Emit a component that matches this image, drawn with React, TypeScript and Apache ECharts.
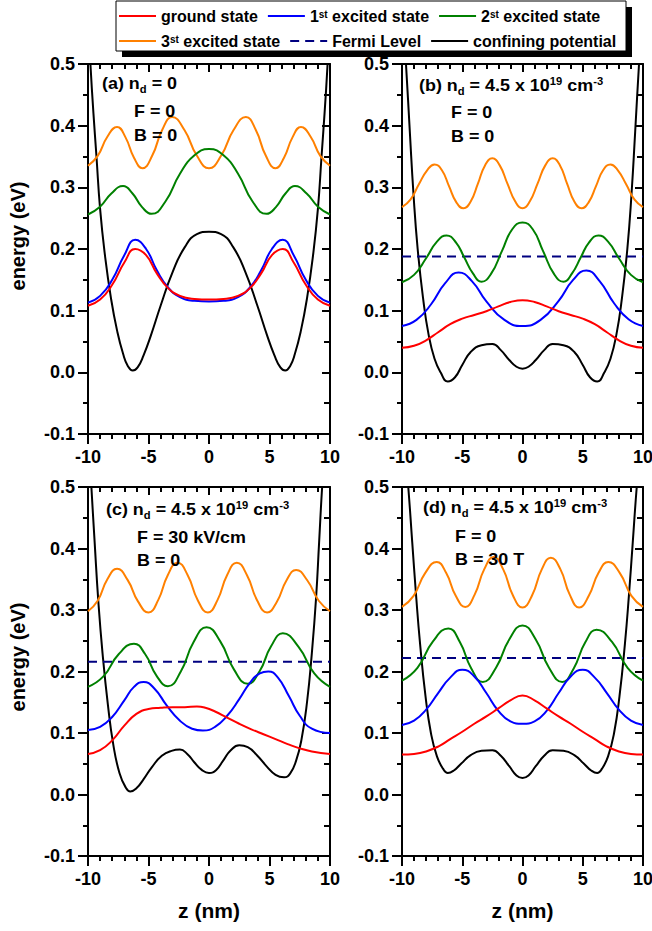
import React, { useEffect, useRef } from 'react';
import * as echarts from 'echarts';

type Pt = [number, number];

const FONT = 'Arial, "Liberation Sans", Helvetica, sans-serif';

const seriesNames = ['ground state', '1st excited state', '2st excited state', '3st excited state', 'Fermi Level', 'confining potential'];
const xTicks = [-10, -5, 0, 5, 10];
const yTicks = [-0.1, 0.0, 0.1, 0.2, 0.3, 0.4, 0.5];

// ---------- Panel (a): n_d = 0, F = 0, B = 0 ----------
const aGround: Pt[] = [[-10,0.108],[-9,0.118],[-8,0.142],[-7,0.178],[-6.1,0.2],[-5.2,0.19],[-4.3,0.16],[-3.4,0.137],[-2.4,0.124],[-1.2,0.119],[0,0.118],[1.2,0.119],[2.4,0.124],[3.4,0.137],[4.3,0.16],[5.2,0.19],[6.1,0.2],[7,0.178],[8,0.142],[9,0.118],[10,0.108]];
const aFirst: Pt[] = [[-10,0.113],[-9,0.124],[-8,0.15],[-7,0.19],[-6.1,0.215],[-5.2,0.2],[-4.3,0.165],[-3.4,0.138],[-2.4,0.122],[-1.2,0.116],[0,0.115],[1.2,0.116],[2.4,0.122],[3.4,0.138],[4.3,0.165],[5.2,0.2],[6.1,0.215],[7,0.19],[8,0.15],[9,0.124],[10,0.113]];
const aSecond: Pt[] = [[-10,0.256],[-9.03,0.268],[-8.07,0.29],[-7.1,0.302],[-6.32,0.29],[-5.53,0.268],[-4.75,0.257],[-3.6,0.277],[-2.4,0.322],[-1.2,0.352],[0,0.362],[1.2,0.352],[2.4,0.322],[3.6,0.277],[4.75,0.257],[5.53,0.268],[6.32,0.29],[7.1,0.302],[8.07,0.29],[9.03,0.268],[10,0.256]];
const aThird: Pt[] = [[-10,0.335],[-9.2,0.351],[-8.4,0.382],[-7.6,0.398],[-6.9,0.381],[-6.2,0.348],[-5.5,0.331],[-4.68,0.352],[-3.87,0.393],[-3.05,0.414],[-2.03,0.393],[-1.02,0.352],[0,0.331],[1.02,0.352],[2.03,0.393],[3.05,0.414],[3.87,0.393],[4.68,0.352],[5.5,0.331],[6.2,0.348],[6.9,0.381],[7.6,0.398],[8.4,0.382],[9.2,0.351],[10,0.335]];
const aPotential: Pt[] = [[-10,0.58],[-9.8,0.5],[-9.55,0.42],[-9.3,0.35],[-9,0.265],[-8.6,0.19],[-8.1,0.12],[-7.6,0.068],[-7.1,0.03],[-6.7,0.01],[-6.3,0.003],[-5.9,0.008],[-5.4,0.028],[-4.8,0.06],[-4,0.108],[-3,0.163],[-2,0.203],[-1,0.224],[0,0.228],[1,0.224],[2,0.203],[3,0.163],[4,0.108],[4.8,0.06],[5.4,0.028],[5.9,0.008],[6.3,0.003],[6.7,0.01],[7.1,0.03],[7.6,0.068],[8.1,0.12],[8.6,0.19],[9,0.265],[9.3,0.35],[9.55,0.42],[9.8,0.5],[10,0.58]];

// ---------- Panel (b): n_d = 4.5e19, F = 0, B = 0 ----------
const bGround: Pt[] = [[-10,0.04],[-9,0.043],[-8,0.052],[-7,0.065],[-6,0.078],[-5,0.087],[-4,0.093],[-3,0.099],[-2,0.107],[-1,0.114],[0,0.117],[1,0.114],[2,0.107],[3,0.099],[4,0.093],[5,0.087],[6,0.078],[7,0.065],[8,0.052],[9,0.043],[10,0.04]];
const bFirst: Pt[] = [[-10,0.075],[-8.8,0.085],[-7.6,0.11],[-6.4,0.145],[-5.3,0.162],[-4.2,0.148],[-3,0.115],[-1.5,0.085],[0,0.075],[1.5,0.085],[3,0.116],[4.2,0.15],[5.3,0.165],[6.4,0.148],[7.6,0.112],[8.8,0.086],[10,0.075]];
const bSecond: Pt[] = [[-10,0.146],[-9,0.158],[-8,0.185],[-7.1,0.212],[-6.3,0.222],[-5.5,0.21],[-4.85,0.187],[-4.1,0.16],[-3.4,0.147],[-2.6,0.16],[-1.7,0.197],[-0.85,0.232],[0,0.243],[0.85,0.232],[1.7,0.197],[2.6,0.16],[3.4,0.147],[4.1,0.16],[4.85,0.187],[5.5,0.21],[6.3,0.222],[7.1,0.212],[8,0.185],[9,0.158],[10,0.146]];
const bThird: Pt[] = [[-10,0.268],[-9.3,0.28],[-8.6,0.305],[-7.9,0.328],[-7.3,0.337],[-6.7,0.328],[-6.1,0.302],[-5.5,0.276],[-4.9,0.266],[-4.3,0.277],[-3.7,0.306],[-3.1,0.336],[-2.5,0.347],[-1.9,0.336],[-1.25,0.306],[-0.6,0.277],[0,0.266],[0.6,0.277],[1.25,0.306],[1.9,0.336],[2.5,0.347],[3.1,0.336],[3.7,0.306],[4.3,0.277],[4.9,0.266],[5.5,0.276],[6.1,0.302],[6.7,0.328],[7.3,0.337],[7.9,0.328],[8.6,0.305],[9.3,0.28],[10,0.268]];
const bFermi: Pt[] = [[-10,0.188],[10,0.188]];
const bPotential: Pt[] = [[-10,0.6],[-9.67,0.5],[-9.35,0.39],[-9.05,0.29],[-8.7,0.2],[-8.25,0.12],[-7.8,0.062],[-7.3,0.022],[-6.8,0.0],[-6.2,-0.015],[-5.6,-0.008],[-5,0.012],[-4.3,0.033],[-3.4,0.044],[-2.5,0.046],[-1.8,0.036],[-1.1,0.02],[-0.5,0.009],[0,0.006],[0.5,0.009],[1.1,0.02],[1.8,0.036],[2.5,0.046],[3.4,0.044],[4.3,0.033],[5,0.012],[5.6,-0.008],[6.2,-0.015],[6.8,0.0],[7.3,0.022],[7.8,0.062],[8.25,0.12],[8.7,0.2],[9.05,0.29],[9.35,0.39],[9.67,0.5],[10,0.6]];

// ---------- Panel (c): n_d = 4.5e19, F = 30 kV/cm, B = 0 ----------
const cGround: Pt[] = [[-10,0.066],[-9,0.072],[-8,0.088],[-7,0.112],[-6,0.131],[-5,0.139],[-4,0.141],[-3,0.142],[-2,0.142],[-1,0.143],[-0.3,0.141],[0.5,0.135],[1.5,0.125],[2.5,0.115],[3.5,0.106],[4.5,0.098],[5.5,0.09],[6.5,0.082],[7.5,0.075],[8.5,0.07],[10,0.066]];
const cFirst: Pt[] = [[-10,0.105],[-9,0.11],[-8,0.126],[-7,0.153],[-6.2,0.175],[-5.4,0.183],[-4.5,0.172],[-3.5,0.145],[-2.4,0.12],[-1.4,0.107],[-0.5,0.104],[0.5,0.11],[1.5,0.128],[2.5,0.155],[3.4,0.182],[4.2,0.197],[4.9,0.2],[5.7,0.19],[6.6,0.16],[7.5,0.128],[8.5,0.107],[10,0.1]];
const cSecond: Pt[] = [[-10,0.175],[-8.73,0.192],[-7.47,0.228],[-6.2,0.245],[-5.27,0.228],[-4.33,0.193],[-3.4,0.176],[-2.33,0.2],[-1.27,0.248],[-0.2,0.272],[0.93,0.249],[2.07,0.203],[3.2,0.18],[4.17,0.2],[5.13,0.241],[6.1,0.262],[7.4,0.24],[8.7,0.197],[10,0.175]];
const cThird: Pt[] = [[-10,0.298],[-9.2,0.315],[-8.4,0.35],[-7.6,0.367],[-6.73,0.349],[-5.87,0.314],[-5,0.296],[-4.2,0.316],[-3.4,0.357],[-2.6,0.377],[-1.77,0.357],[-0.93,0.316],[-0.1,0.296],[0.7,0.316],[1.5,0.357],[2.3,0.377],[3.13,0.357],[3.97,0.316],[4.8,0.296],[5.6,0.313],[6.4,0.348],[7.2,0.365],[8.13,0.348],[9.07,0.315],[10,0.298]];
const cFermi: Pt[] = [[-10,0.216],[10,0.216]];
const cPotential: Pt[] = [[-10,0.6],[-9.72,0.5],[-9.45,0.41],[-9.15,0.315],[-8.8,0.23],[-8.35,0.145],[-7.9,0.08],[-7.4,0.035],[-6.9,0.012],[-6.5,0.005],[-6,0.01],[-5.4,0.025],[-4.7,0.045],[-3.9,0.063],[-3.1,0.071],[-2.4,0.073],[-1.8,0.066],[-1.2,0.052],[-0.6,0.04],[0,0.035],[0.6,0.04],[1.2,0.056],[1.8,0.072],[2.5,0.08],[3.2,0.077],[4,0.063],[4.8,0.045],[5.5,0.032],[6.2,0.028],[6.7,0.034],[7.2,0.055],[7.65,0.09],[8.1,0.15],[8.5,0.23],[8.85,0.32],[9.1,0.41],[9.35,0.5],[10,0.7]];

// ---------- Panel (d): n_d = 4.5e19, F = 0, B = 30 T ----------
const dGround: Pt[] = [[-10,0.065],[-9,0.066],[-8,0.07],[-7,0.078],[-6,0.09],[-5,0.102],[-4,0.115],[-3,0.127],[-2,0.14],[-1,0.153],[0,0.161],[1,0.153],[2,0.14],[3,0.127],[4,0.115],[5,0.102],[6,0.09],[7,0.078],[8,0.07],[9,0.066],[10,0.065]];
const dFirst: Pt[] = [[-10,0.113],[-9,0.12],[-8,0.138],[-7,0.165],[-6,0.19],[-5,0.203],[-4,0.192],[-3,0.165],[-2,0.136],[-1,0.119],[0,0.115],[1,0.119],[2,0.136],[3,0.165],[4,0.192],[5,0.203],[6,0.19],[7,0.165],[8,0.138],[9,0.12],[10,0.113]];
const dSecond: Pt[] = [[-10,0.185],[-8.72,0.206],[-7.43,0.249],[-6.15,0.27],[-5.2,0.248],[-4.25,0.205],[-3.3,0.183],[-2.2,0.206],[-1.1,0.252],[0,0.275],[1.1,0.252],[2.2,0.206],[3.3,0.183],[4.25,0.205],[5.2,0.247],[6.15,0.268],[7.43,0.248],[8.72,0.206],[10,0.185]];
const dThird: Pt[] = [[-10,0.305],[-9.04,0.323],[-8.08,0.36],[-7.12,0.378],[-6.33,0.36],[-5.54,0.323],[-4.75,0.305],[-3.97,0.325],[-3.18,0.366],[-2.4,0.386],[-1.6,0.366],[-0.8,0.324],[0,0.304],[0.8,0.324],[1.6,0.366],[2.35,0.385],[3.15,0.366],[3.92,0.325],[4.7,0.304],[5.5,0.323],[6.3,0.36],[7.12,0.378],[8.08,0.36],[9.04,0.323],[10,0.305]];
const dFermi: Pt[] = [[-10,0.222],[10,0.222]];
const dPotential: Pt[] = [[-10,0.62],[-9.48,0.5],[-9.15,0.41],[-8.84,0.326],[-8.5,0.245],[-8.05,0.16],[-7.6,0.1],[-7.1,0.062],[-6.6,0.042],[-6.2,0.035],[-5.7,0.039],[-5.1,0.05],[-4.3,0.064],[-3.4,0.071],[-2.5,0.072],[-1.8,0.063],[-1.1,0.046],[-0.5,0.031],[0,0.027],[0.5,0.031],[1.1,0.046],[1.8,0.063],[2.5,0.072],[3.4,0.071],[4.3,0.064],[5.1,0.05],[5.7,0.039],[6.2,0.035],[6.6,0.042],[7.1,0.062],[7.6,0.1],[8.05,0.16],[8.5,0.245],[8.84,0.326],[9.15,0.41],[9.48,0.5],[10,0.62]];

const panels = [
  { ground: aGround, first: aFirst, second: aSecond, third: aThird, fermi: null as Pt[] | null, potential: aPotential },
  { ground: bGround, first: bFirst, second: bSecond, third: bThird, fermi: bFermi, potential: bPotential },
  { ground: cGround, first: cFirst, second: cSecond, third: cThird, fermi: cFermi, potential: cPotential },
  { ground: dGround, first: dFirst, second: dSecond, third: dThird, fermi: dFermi, potential: dPotential },
];

// annotation texts (rich format)
const panelTexts = [
  ['{n|(a) n}{sub|d}{n| = 0}', '{n|F = 0}', '{n|B = 0}'],
  ['{n|(b) n}{sub|d}{n| = 4.5 x 10}{sup|19}{n| cm}{sup|-3}', '{n|F = 0}', '{n|B = 0}'],
  ['{n|(c) n}{sub|d}{n| = 4.5 x 10}{sup|19}{n| cm}{sup|-3}', '{n|F = 30 kV/cm}', '{n|B = 0}'],
  ['{n|(d) n}{sub|d}{n| = 4.5 x 10}{sup|19}{n| cm}{sup|-3}', '{n|F = 0}', '{n|B = 30 T}'],
];

const legendLabels: Record<string, string> = {
  'ground state': '{n|ground state}',
  '1st excited state': '{n|1}{s|st}{n| excited state}',
  '2st excited state': '{n|2}{s|st}{n| excited state}',
  '3st excited state': '{n|3}{s|st}{n| excited state}',
  'Fermi Level': '{n|Fermi Level}',
  'confining potential': '{n|confining potential}',
};

const COLORS = {
  ground: '#ff0000',
  first: '#0000ff',
  second: '#008000',
  third: '#ff8000',
  fermi: '#000080',
  potential: '#000000',
};

const GRIDS = [
  { left: 88, top: 64, width: 242, height: 370 },
  { left: 402, top: 64, width: 241, height: 370 },
  { left: 88, top: 487, width: 242, height: 369 },
  { left: 402, top: 487, width: 241, height: 369 },
];

const TEXT_POS = [
  [[102, 84], [134, 112], [134, 136]],
  [[419, 86], [451, 113], [451, 137]],
  [[106, 510], [137, 538], [137, 561]],
  [[423, 508], [455, 537], [455, 560]],
];

function buildOption(): any {
  const axisLine = { onZero: false, lineStyle: { color: '#000', width: 2 } };
  const labelStyle = { color: '#000', fontSize: 18, fontWeight: 'bold', fontFamily: FONT };
  const xMin = xTicks[0];
  const xMax = xTicks[xTicks.length - 1];
  const xInt = xTicks[1] - xTicks[0];
  const yMin = yTicks[0];
  const yMax = yTicks[yTicks.length - 1];
  const yInt = 0.1;

  const xAxis: any[] = [];
  const yAxis: any[] = [];
  const series: any[] = [];
  const graphic: any[] = [];

  GRIDS.forEach((_, i) => {
    xAxis.push({
      gridIndex: i, type: 'value', position: 'bottom', min: xMin, max: xMax, interval: xInt,
      axisLine, splitLine: { show: false },
      axisTick: { show: true, length: 10, lineStyle: { color: '#000', width: 2 } },
      minorTick: { show: true, splitNumber: 5, length: 5, lineStyle: { color: '#000', width: 2 } },
      minorSplitLine: { show: false },
      axisLabel: { ...labelStyle, margin: 14 },
      name: i >= 2 ? 'z (nm)' : '', nameLocation: 'middle', nameGap: 44,
      nameTextStyle: { color: '#000', fontSize: 21, fontWeight: 'bold', fontFamily: FONT },
    });
    xAxis.push({
      gridIndex: i, type: 'value', position: 'top', min: xMin, max: xMax, interval: xInt,
      axisLine, splitLine: { show: false },
      axisTick: { show: true, inside: true, length: 8, lineStyle: { color: '#000', width: 2 } },
      minorTick: { show: true, splitNumber: 5, length: 5, lineStyle: { color: '#000', width: 2 } },
      axisLabel: { show: false },
    });
    yAxis.push({
      gridIndex: i, type: 'value', position: 'left', min: yMin, max: yMax, interval: yInt,
      axisLine, splitLine: { show: false },
      axisTick: { show: true, length: 10, lineStyle: { color: '#000', width: 2 } },
      minorTick: { show: true, splitNumber: 2, length: 5, lineStyle: { color: '#000', width: 2 } },
      axisLabel: { ...labelStyle, margin: 13, formatter: (v: number) => v.toFixed(1) },
    });
    yAxis.push({
      gridIndex: i, type: 'value', position: 'right', min: yMin, max: yMax, interval: yInt,
      axisLine, splitLine: { show: false },
      axisTick: { show: true, inside: true, length: 8, lineStyle: { color: '#000', width: 2 } },
      minorTick: { show: true, splitNumber: 2, length: 6, lineStyle: { color: '#000', width: 2 } },
      axisLabel: { show: false },
    });

    const p = panels[i];
    const base = { type: 'line', xAxisIndex: 2 * i, yAxisIndex: 2 * i, symbol: 'none', showSymbol: false, silent: true, emphasis: { disabled: true }, animation: false };
    series.push({ ...base, name: 'confining potential', data: p.potential, smooth: 0.5, color: COLORS.potential, lineStyle: { color: COLORS.potential, width: 2 }, z: 2 });
    if (p.fermi) {
      series.push({ ...base, name: 'Fermi Level', data: p.fermi, color: COLORS.fermi, lineStyle: { color: COLORS.fermi, width: 2, type: [9, 6] }, z: 3 });
    }
    series.push({ ...base, name: '3st excited state', data: p.third, smooth: 0.5, color: COLORS.third, lineStyle: { color: COLORS.third, width: 2 }, z: 3 });
    series.push({ ...base, name: '2st excited state', data: p.second, smooth: 0.5, color: COLORS.second, lineStyle: { color: COLORS.second, width: 2 }, z: 3 });
    series.push({ ...base, name: '1st excited state', data: p.first, smooth: 0.5, color: COLORS.first, lineStyle: { color: COLORS.first, width: 2 }, z: 3 });
    series.push({ ...base, name: 'ground state', data: p.ground, smooth: 0.5, color: COLORS.ground, lineStyle: { color: COLORS.ground, width: 2 }, z: 4 });

    const rich = {
      n: { fontSize: 16, fontWeight: 'bold', fontFamily: FONT, fill: '#000', lineHeight: 20 },
      sub: { fontSize: 10, fontWeight: 'bold', fontFamily: FONT, fill: '#000', lineHeight: 8, verticalAlign: 'bottom' },
      sup: { fontSize: 10, fontWeight: 'bold', fontFamily: FONT, fill: '#000', lineHeight: 10, verticalAlign: 'top' },
    };
    panelTexts[i].forEach((t, k) => {
      graphic.push({
        type: 'text', x: TEXT_POS[i][k][0], y: TEXT_POS[i][k][1], scaleX: 1.12, z: 100,
        style: { text: t, rich, align: 'left', verticalAlign: 'middle', fill: '#000', fontSize: 16, fontWeight: 'bold', fontFamily: FONT },
      });
    });
  });

  // legend frame with drop shadow
  graphic.push({ type: 'rect', z: 0, shape: { x: 122, y: 7, width: 510, height: 50 }, style: { fill: '#000' } });
  graphic.push({ type: 'rect', z: 1, shape: { x: 116, y: 1, width: 510, height: 50 }, style: { fill: '#fff', stroke: '#000', lineWidth: 1 } });

  // y-axis titles
  [236, 657].forEach((cy) => {
    graphic.push({
      type: 'text', x: 18, y: cy, rotation: Math.PI / 2, z: 100,
      style: { text: 'energy (eV)', fill: '#000', fontSize: 20, fontWeight: 'bold', fontFamily: FONT, align: 'center', verticalAlign: 'middle' },
    });
  });

  return {
    animation: false,
    backgroundColor: '#fff',
    grid: GRIDS.map((g) => ({ ...g, containLabel: false, outerBoundsMode: 'none' })),
    xAxis,
    yAxis,
    series,
    graphic: { elements: graphic },
    legend: {
      data: seriesNames,
      left: 118, top: 8, padding: 0, width: 505, orient: 'horizontal',
      itemWidth: 37, itemHeight: 14, itemGap: 9,
      selectedMode: false, z: 10,
      itemStyle: { opacity: 0, borderWidth: 0 },
      formatter: (name: string) => legendLabels[name] ?? name,
      textStyle: {
        color: '#000', fontSize: 16, fontWeight: 'bold', fontFamily: FONT,
        rich: {
          n: { color: '#000', fontSize: 16, fontWeight: 'bold', fontFamily: FONT, lineHeight: 14 },
          s: { color: '#000', fontSize: 10, fontWeight: 'bold', fontFamily: FONT, lineHeight: 9, verticalAlign: 'top' },
        },
      },
    },
  };
}

export default function App() {
  const ref = useRef<HTMLDivElement>(null);
  useEffect(() => {
    if (!ref.current) return;
    const chart = echarts.init(ref.current, null, { renderer: 'svg' });
    chart.setOption(buildOption());
    return () => chart.dispose();
  }, []);
  return <div ref={ref} style={{ position: 'absolute', left: 0, top: 0, width: 652, height: 931 }} />;
}
